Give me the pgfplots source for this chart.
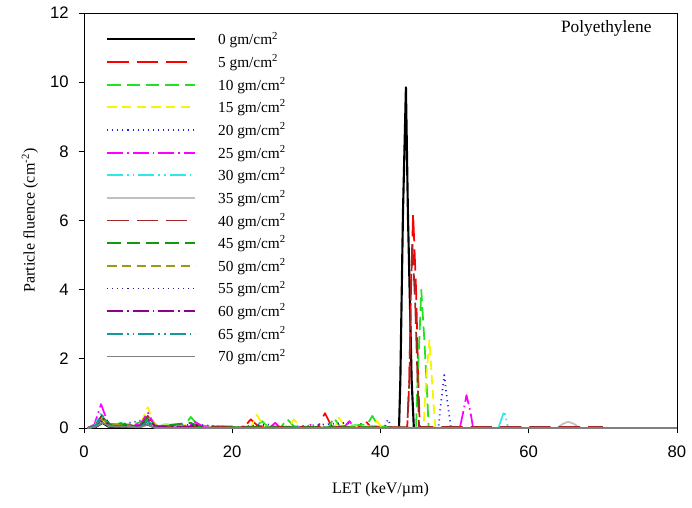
\documentclass[border=0pt]{standalone}
\usepackage{pgfplots}
\pgfplotsset{compat=1.18}
\usepackage{fontspec}
\setmainfont{Liberation Serif}
\newfontfamily\arial{Liberation Sans}
\definecolor{serzero}{HTML}{000000}
\definecolor{serfive}{HTML}{FF0000}
\definecolor{serten}{HTML}{22E022}
\definecolor{serfifteen}{HTML}{F5F500}
\definecolor{sertwenty}{HTML}{2020E0}
\definecolor{sertwentyfive}{HTML}{FF00FF}
\definecolor{serthirty}{HTML}{30E8E8}
\definecolor{serthirtyfive}{HTML}{C0C0C0}
\definecolor{serforty}{HTML}{A02828}
\definecolor{serfortyfive}{HTML}{109A10}
\definecolor{serfifty}{HTML}{9A9A10}
\definecolor{serfiftyfive}{HTML}{202090}
\definecolor{sersixty}{HTML}{900090}
\definecolor{sersixtyfive}{HTML}{109A9A}
\definecolor{serseventy}{HTML}{808080}
\tikzset{
  dlong/.style={dash pattern=on 16pt off 6pt},
  dmed/.style={dash pattern=on 10pt off 4.5pt},
  dshort/.style={dash pattern=on 7pt off 4pt},
  ddot/.style={dash pattern=on 0.8pt off 3pt},
  ddash/.style={dash pattern=on 12pt off 3pt on 1.2pt off 3pt},
  ddd/.style={dash pattern=on 12pt off 3pt on 1.2pt off 3pt on 1.2pt off 3pt},
}
\begin{document}
\begin{tikzpicture}
\path[use as bounding box] (-63pt,-59.25pt) rectangle (456pt,321pt);
\begin{axis}[
  at={(0,0)}, anchor=south west, scale only axis,
  width=444.75pt, height=311.25pt,
  xmin=0, xmax=80, ymin=0, ymax=12,
  xtick={0,20,...,80}, ytick={0,2,...,12},
  tick align=outside, xtick pos=bottom, ytick pos=left,
  major tick length=4pt,
  tick style={black, line width=0.6pt},
  axis line style={line width=0.7pt},
  /pgf/number format/assume math mode=true,
  tick label style={font=\arial\fontsize{12.5}{14}\selectfont},
  xticklabel style={yshift=-6pt},
  yticklabel style={xshift=-4pt},
  xlabel={LET (keV/µm)},
  ylabel={Particle fluence (cm\textsuperscript{-2})},
  label style={font=\fontsize{12}{14}\selectfont},
  xlabel style={at={(axis description cs:0.5,0)}, anchor=center, yshift=-46.5pt},
  ylabel style={at={(axis description cs:0,0.5)}, anchor=center, xshift=0pt, yshift=40.5pt},
  legend cell align=left,
  legend image code/.code={\draw[#1, line width=1.4pt] (0pt,0pt) -- (66pt,0pt);},
  legend style={draw=none, fill=none, at={(axis description cs:0,1)}, anchor=north west,
    xshift=13.5pt, yshift=-12pt, font=\fontsize{11.5}{13}\selectfont,
    nodes={inner sep=0pt}, row sep=5.8pt,
    /tikz/every odd column/.append style={column sep=16.5pt}},
  every axis plot/.append style={line width=1.3pt, line join=round},
]
% 0 gm/cm2
\addplot[color=serzero, line width=1.6pt] coordinates {(0.5,0)(1.5,0.02)(2.5,0.15)(3.3,0.04)(5,0.02)(8.6,0.1)(9.5,0.02)(12,0.01)(20,0)(42.5,0)(42.68,1.4)(43.03,6.2)(43.43,9.85)(43.7,6.2)(44.2,1.4)(44.5,0)(46,0)};
\addlegendentry{0 gm/cm\textsuperscript{2}}
% 5
\addplot[color=serfive, dlong] coordinates {(0.5,0)(1.5,0.05)(2.5,0.3)(3.5,0.1)(6,0.1)(7.5,0.05)(8.6,0.3)(10,0.05)(15,0.1)(16,0.02)(21.5,0)(22.5,0.25)(23.5,0.05)(31.5,0)(32.5,0.43)(33.4,0.05)(37,0)(37.8,0.25)(38.6,0.05)(43.6,0)(43.9,1.4)(44.1,4)(44.4,6.2)(44.8,4)(45.1,1.4)(45.3,0)(48,0)};
\addlegendentry{5 gm/cm\textsuperscript{2}}
% 10
\addplot[color=serten, dmed] coordinates {(0.5,0)(1.5,0.05)(2.5,0.3)(3.5,0.05)(5,0.15)(6,0.05)(8.6,0.25)(10,0.05)(13.5,0.05)(14.4,0.32)(15.5,0.05)(23,0)(24,0.2)(25,0)(26.5,0)(27.4,0.26)(28.3,0.05)(33,0)(33.7,0.3)(34.5,0.05)(38.2,0.1)(38.9,0.35)(39.7,0.05)(44.8,0)(45.0,1.4)(45.25,2.6)(45.5,4.0)(45.9,2.6)(46.2,1.4)(46.5,0)(50,0)};
\addlegendentry{10 gm/cm\textsuperscript{2}}
% 15
\addplot[color=serfifteen, dshort] coordinates {(0.5,0)(1.5,0.05)(2.5,0.2)(3.5,0.1)(7.5,0.05)(8.6,0.6)(9.5,0.1)(11.3,0.12)(12,0.02)(14,0.1)(15,0.02)(22.5,0)(23.3,0.38)(24.3,0.05)(27.5,0)(28.3,0.25)(29.2,0.05)(33.8,0)(34.4,0.3)(35.2,0.05)(39,0.05)(39.5,0.2)(40.3,0)(45.8,0)(46.1,1.2)(46.6,2.55)(47.0,1.2)(47.4,0)(52,0)};
\addlegendentry{15 gm/cm\textsuperscript{2}}
% 20
\addplot[color=sertwenty, ddot] coordinates {(0.5,0)(1.5,0.05)(2.5,0.2)(3.5,0.05)(8.6,0.25)(9.5,0.05)(15,0.1)(20,0.02)(25,0.1)(26,0)(35.5,0.15)(36.2,0)(40.5,0)(41,0.25)(41.5,0)(47.8,0)(48.2,0.8)(48.6,1.53)(49.0,0.8)(49.5,0)(54,0)};
\addlegendentry{20 gm/cm\textsuperscript{2}}
% 25
\addplot[color=sertwentyfive, ddash] coordinates {(0.5,0)(1.4,0.1)(2.3,0.69)(3.3,0.1)(6,0.1)(7.6,0.1)(8.6,0.45)(9.6,0.05)(14,0.05)(14.8,0.2)(16,0.05)(25,0)(25.8,0.15)(26.5,0)(30,0)(30.5,0.1)(31,0)(35,0)(35.8,0.2)(36.5,0)(50.7,0)(51.2,0.5)(51.6,0.95)(52.1,0.5)(52.5,0)(56,0)};
\addlegendentry{25 gm/cm\textsuperscript{2}}
% 30
\addplot[color=serthirty, ddd] coordinates {(0.5,0)(1.4,0.05)(2.3,0.45)(3.3,0.05)(7.6,0.05)(8.6,0.3)(9.6,0.05)(13,0.1)(14,0)(55.9,0)(56.7,0.49)(57.2,0.02)(60,0)};
\addlegendentry{30 gm/cm\textsuperscript{2}}
% 35
\addplot[color=serthirtyfive] coordinates {(0.5,0)(1.5,0.05)(2.5,0.35)(3.5,0.05)(7.6,0.05)(8.6,0.2)(9.6,0.02)(63.8,0)(64.6,0.12)(65.3,0.18)(66.1,0.12)(66.9,0)(70,0)};
\addlegendentry{35 gm/cm\textsuperscript{2}}
% 40
\addplot[color=serforty, dlong] coordinates {(0.5,0)(1.5,0.05)(2.5,0.4)(3.5,0.1)(7.6,0.05)(8.6,0.35)(9.6,0.05)(43.6,0.02)(43.9,1.4)(44.05,3.5)(44.3,5.35)(44.7,3.5)(45.0,1.4)(45.2,0.03)(70,0.03)};
\addlegendentry{40 gm/cm\textsuperscript{2}}
% 45
\addplot[color=serfortyfive, dmed] coordinates {(0.5,0)(1.5,0.05)(2.5,0.3)(3.5,0.1)(5,0.1)(7.6,0.05)(8.6,0.3)(9.6,0.05)(14.4,0.15)(16,0)(20,0.02)(40,0.02)};
\addlegendentry{45 gm/cm\textsuperscript{2}}
% 50
\addplot[color=serfifty, dshort] coordinates {(0.5,0)(1.5,0.05)(2.5,0.25)(3.5,0.1)(7.6,0.05)(8.6,0.2)(10,0.05)(12,0)};
\addlegendentry{50 gm/cm\textsuperscript{2}}
% 55
\addplot[color=serfiftyfive, ddot] coordinates {(0.5,0)(1.5,0.05)(2.5,0.2)(3.5,0.05)(7.6,0.03)(8.6,0.15)(9.6,0)(14,0)(15,0.1)(16,0)};
\addlegendentry{55 gm/cm\textsuperscript{2}}
% 60
\addplot[color=sersixty, ddash] coordinates {(0.5,0)(1.5,0.05)(2.5,0.3)(3.5,0.05)(7.6,0.05)(8.6,0.25)(9.6,0.05)(14,0.02)(15,0.1)(16,0)(20,0)};
\addlegendentry{60 gm/cm\textsuperscript{2}}
% 65
\addplot[color=sersixtyfive, ddd] coordinates {(0.5,0)(1.5,0.05)(2.5,0.35)(3.5,0.05)(7.6,0.03)(8.6,0.2)(9.6,0.02)(12,0)};
\addlegendentry{65 gm/cm\textsuperscript{2}}
% 70
\addplot[color=serseventy] coordinates {(0.5,0)(1.5,0.03)(2.5,0.15)(3.5,0.05)(7.6,0.02)(8.6,0.1)(9.6,0)(80,0)};
\addlegendentry{70 gm/cm\textsuperscript{2}}
\node[anchor=east, font=\fontsize{13}{15}\selectfont] at (axis description cs:0.965,0.964) {Polyethylene};
\end{axis}
\end{tikzpicture}
\end{document}
